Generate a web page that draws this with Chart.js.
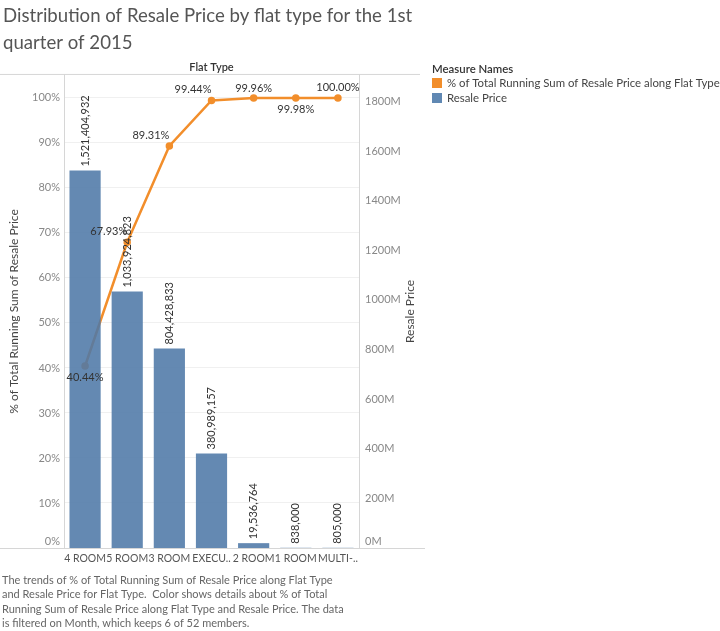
<!DOCTYPE html>
<html>
<head>
<meta charset="utf-8">
<title>Distribution of Resale Price by flat type</title>
<script src="https://cdn.jsdelivr.net/npm/chart.js@4.4.1/dist/chart.umd.min.js"></script>
<style>
  html, body { margin: 0; padding: 0; background: #fff; }
  canvas { display: block; }
</style>
</head>
<body>
<canvas id="chart" width="720" height="631"></canvas>
<script>
// values (Q1 2015)
const flatTypes = ['4 ROOM', '5 ROOM', '3 ROOM', 'EXECU..', '2 ROOM', '1 ROOM', 'MULTI-..'];
const resalePrice = [1521404932, 1033924823, 804428833, 380989157, 19536764, 838000, 805000];
const runningPct = [40.44, 67.93, 89.31, 99.44, 99.96, 99.98, 100.00];
const pctTicks = [0, 10, 20, 30, 40, 50, 60, 70, 80, 90, 100];
const priceTicks = [0, 200e6, 400e6, 600e6, 800e6, 1000e6, 1200e6, 1400e6, 1600e6, 1800e6];

const titleLines = ['Distribution of Resale Price by flat type for the 1st', 'quarter of 2015'];
const captionLines = [
    'The trends of % of Total Running Sum of Resale Price along Flat Type',
    'and Resale Price for Flat Type.  Color shows details about % of Total',
    'Running Sum of Resale Price along Flat Type and Resale Price. The data',
    'is filtered on Month, which keeps 6 of 52 members.'
];

// where each % label sits around its point (tableau moved them to avoid overlap)
const pctLabelPos = ['below', 'left', 'left', 'left', 'above', 'below', 'above'];

const FONT = 'Lato, "Open Sans", sans-serif';
const ORANGE = '#f28e2b';
const BLUE = 'rgba(78, 121, 167, 0.88)';
const LEGEND_BLUE = '#6088b3';

function drawRotated(ctx, text, x, y, align) {
    ctx.save();
    ctx.translate(x, y);
    ctx.rotate(-Math.PI / 2);
    ctx.textAlign = align;
    ctx.textBaseline = 'middle';
    ctx.fillText(text, 0, 0);
    ctx.restore();
}

const labelPlugin = {
    id: 'labels',
    afterDatasetsDraw(chart) {
        const ctx = chart.ctx;
        ctx.save();
        ctx.font = '11px ' + FONT;
        ctx.fillStyle = '#333';

        //bar values, rotated, sitting on top of each bar
        const barMeta = chart.getDatasetMeta(0);
        barMeta.data.forEach((bar, i) => {
            drawRotated(ctx, resalePrice[i].toLocaleString('en-US'), bar.x, bar.y - 4, 'left');
        });

        //running % labels
        const lineMeta = chart.getDatasetMeta(1);
        lineMeta.data.forEach((pt, i) => {
            const txt = runningPct[i].toFixed(2) + '%';
            ctx.textBaseline = 'middle';
            const pos = pctLabelPos[i];
            if (pos === 'left') {
                ctx.textAlign = 'right';
                ctx.fillText(txt, pt.x, pt.y - 11);
            } else if (pos === 'below') {
                ctx.textAlign = 'center';
                ctx.fillText(txt, pt.x, pt.y + 11);
            } else {
                ctx.textAlign = 'center';
                ctx.fillText(txt, pt.x, pt.y - 10);
            }
        });
        ctx.restore();
    },
    afterDraw(chart) {
        const ctx = chart.ctx;
        const area = chart.chartArea;
        const right = chart.scales.yPrice.right;
        ctx.save();

        // table frame lines
        ctx.strokeStyle = '#d6d6d6';
        ctx.lineWidth = 1;
        ctx.beginPath();
        ctx.moveTo(0, area.top - 0.5);
        ctx.lineTo(right, area.top - 0.5);
        ctx.moveTo(0, area.bottom + 0.5);
        ctx.lineTo(right + 5, area.bottom + 0.5);
        ctx.stroke();

        // zero labels are nudged up inside the pane like tableau does
        ctx.font = '11px ' + FONT;
        ctx.fillStyle = '#888';
        ctx.textBaseline = 'middle';
        ctx.textAlign = 'right';
        ctx.fillText('0%', area.left - 4, area.bottom - 7);
        ctx.textAlign = 'left';
        ctx.fillText('0M', area.right + 6, area.bottom - 7);

        // header
        ctx.fillStyle = '#333';
        ctx.font = '600 11px ' + FONT;
        ctx.textAlign = 'center';
        ctx.fillText('Flat Type', (area.left + area.right) / 2, 67);

        // axis titles
        const midY = (area.top + area.bottom) / 2;
        ctx.font = '12px ' + FONT;
        ctx.fillStyle = '#444';
        drawRotated(ctx, '% of Total Running Sum of Resale Price', 14, midY, 'center');
        drawRotated(ctx, 'Resale Price', 410, midY, 'center');

        // legend
        const lx = 432;
        ctx.textAlign = 'left';
        ctx.textBaseline = 'middle';
        ctx.font = '600 11.4px ' + FONT;
        ctx.fillStyle = '#333';
        ctx.fillText('Measure Names', lx, 69);
        ctx.font = '11.4px ' + FONT;
        ctx.fillStyle = ORANGE;
        ctx.fillRect(lx, 78, 10, 10);
        ctx.fillStyle = LEGEND_BLUE;
        ctx.fillRect(lx, 93, 10, 10);
        ctx.fillStyle = '#444';
        ctx.fillText('% of Total Running Sum of Resale Price along Flat Type', lx + 15, 83);
        ctx.fillText('Resale Price', lx + 15, 98);

        // caption
        ctx.fillStyle = '#666';
        ctx.font = '11px ' + FONT;
        captionLines.forEach((line, i) => {
            ctx.fillText(line, 2, 580 + i * 14.5);
        });
        ctx.restore();
    }
};

function Main() {
    const ctx = document.getElementById('chart').getContext('2d');
    new Chart(ctx, {
        data: {
            labels: flatTypes,
            datasets: [
                {
                    type: 'bar',
                    label: 'Resale Price',
                    data: resalePrice,
                    yAxisID: 'yPrice',
                    backgroundColor: BLUE,
                    barPercentage: 0.74,
                    categoryPercentage: 1,
                    order: 0
                },
                {
                    type: 'line',
                    label: '% of Total Running Sum of Resale Price along Flat Type',
                    data: runningPct,
                    yAxisID: 'yPct',
                    borderColor: ORANGE,
                    backgroundColor: ORANGE,
                    borderWidth: 2.5,
                    pointRadius: 2.5,
                    pointHoverRadius: 2.5,
                    tension: 0,
                    order: 1
                }
            ]
        },
        options: {
            responsive: false,
            animation: false,
            devicePixelRatio: 1,
            layout: { padding: { left: 3, right: 300, top: 0, bottom: 0 } },
            plugins: {
                legend: { display: false },
                tooltip: { enabled: false },
                title: {
                    display: true,
                    text: titleLines,
                    align: 'start',
                    color: '#555',
                    font: { family: FONT, size: 18.6, weight: 'normal', lineHeight: 1.45 },
                    padding: { top: 2.5, bottom: 18.5 }
                }
            },
            scales: {
                x: {
                    type: 'category',
                    offset: true,
                    grid: { display: false, drawTicks: false },
                    border: { display: false },
                    ticks: {
                        color: '#555',
                        font: { family: FONT, size: 10.5 },
                        padding: 4,
                        maxRotation: 0,
                        autoSkip: false
                    },
                    afterFit: (scale) => { scale.height = 83; }
                },
                yPct: {
                    type: 'linear',
                    position: 'left',
                    min: 0,
                    max: 105.1,
                    ticks: {
                        stepSize: 10,
                        color: '#888',
                        font: { family: FONT, size: 11 },
                        padding: 4,
                        callback: (v) => v === 0 ? '' : v + '%'
                    },
                    afterBuildTicks: (scale) => {
                        scale.ticks = pctTicks.map(v => ({ value: v }));
                    },
                    grid: { color: '#f0f0f0', drawTicks: false },
                    border: { color: '#d6d6d6' },
                    afterFit: (scale) => { scale.width = 61; }
                },
                yPrice: {
                    type: 'linear',
                    position: 'right',
                    min: 0,
                    max: 1907e6,
                    ticks: {
                        color: '#888',
                        font: { family: FONT, size: 11 },
                        padding: 6,
                        callback: (v) => v === 0 ? '' : (v / 1e6) + 'M'
                    },
                    afterBuildTicks: (scale) => {
                        scale.ticks = priceTicks.map(v => ({ value: v }));
                    },
                    grid: { display: false, drawTicks: false },
                    border: { color: '#d6d6d6' },
                    afterFit: (scale) => { scale.width = 61; }
                }
            }
        },
        plugins: [labelPlugin]
    });
}

Main();
</script>
</body>
</html>
